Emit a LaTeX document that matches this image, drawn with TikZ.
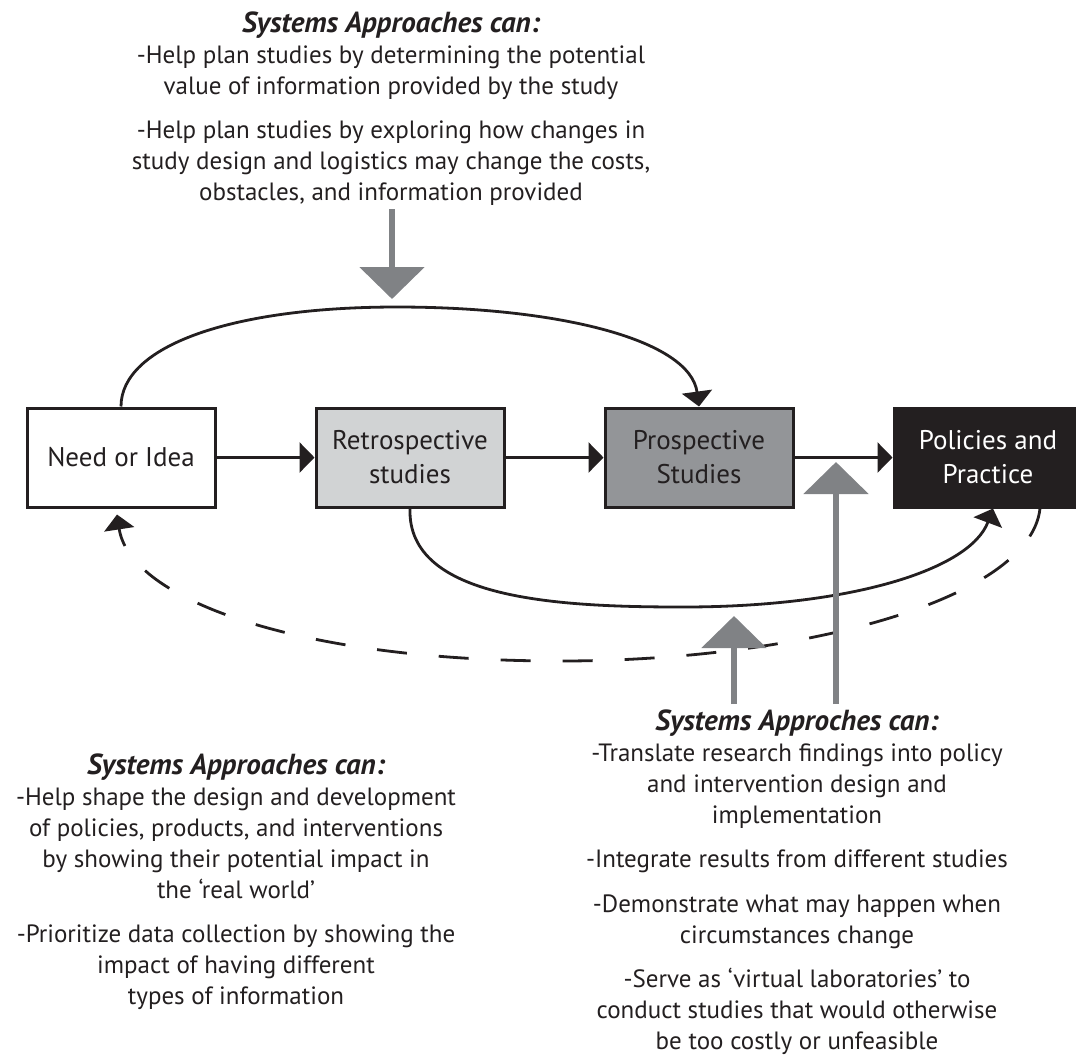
\documentclass[tikz,border=0pt]{standalone}
\usepackage{fontspec}
\setmainfont{PT Sans}
\usetikzlibrary{positioning,arrows.meta}
\definecolor{ink}{HTML}{231F20}
\definecolor{retrofill}{HTML}{D1D3D4}
\definecolor{prospfill}{HTML}{939598}
\definecolor{pointer}{HTML}{808285}
\tikzset{
  stage/.style={draw=ink, line width=1.5pt, minimum width=94pt, minimum height=49.5pt,
    inner sep=0pt, align=center, text=ink, font=\fontsize{13.5}{17}\selectfont},
  flow/.style={draw=ink, line width=1.4pt, -{Triangle[length=7.5pt,width=15pt]}},
  hint/.style={draw=pointer, line width=3pt, -{Triangle[length=16pt,width=32pt]}},
  note/.style={align=center, inner sep=0pt, anchor=north, text=ink,
    font=\fontsize{12.5}{15.5}\selectfont},
}
\newcommand{\notehead}[1]{{\fontsize{14.5}{15.5}\selectfont\bfseries\itshape #1}}

\begin{document}
\begin{tikzpicture}[x=0.5pt,y=-0.5pt,node distance=49pt]
    \useasboundingbox (0,0) rectangle (1076,1057);
    % stages
    \node[stage] (need) at (121,457.5) {Need or Idea};
    \node[stage, fill=retrofill, right=of need] (retro) {Retrospective\\studies};
    \node[stage, fill=prospfill, right=of retro] (prosp) {Prospective\\Studies};
    \node[stage, fill=ink, text=white, right=of prosp] (policy) {Policies and\\Practice};
    \draw[flow] (need) -- (retro);
    \draw[flow] (retro) -- (prosp);
    \draw[flow] (prosp) -- (policy);
    % arcs over and under
    \draw[flow] (need.north) .. controls +(0,-60) and (230,307) .. (397,307)
        .. controls (560,307) and (690,340) .. (prosp.north);
    \draw[flow] (retro.south) .. controls (407,600) and (560,607) .. (683,607)
        .. controls (850,607) and (970,570) .. ([xshift=2.5pt]policy.south);
    \draw[flow, dash pattern=on 15pt off 16pt] ([xshift=26pt]policy.south)
        .. controls (1030,600) and (800,661) .. (560,661)
        .. controls (300,661) and (130,600) .. ([xshift=-2pt,yshift=-3pt]need.south);
    % notes
    \node[note] (topnote) at (391,11) {\notehead{Systems Approaches can:}\\
        -Help plan studies by determining the potential\\
        value of information provided by the study\\[6.75pt]
        -Help plan studies by exploring how changes in\\
        study design and logistics may change the costs,\\
        obstacles, and information provided};
    \node[note] (leftnote) at (236,753) {\notehead{Systems Approaches can:}\\
        -Help shape the design and development\\
        of policies, products, and interventions\\
        by showing their potential impact in\\
        the `real world'\\[6.75pt]
        -Prioritize data collection by showing the\\
        impact of having different\\
        types of information};
    \node[note] (rightnote) at (797,709) {\notehead{Systems Approches can:}\\
        -Translate research findings into policy\\
        and intervention design and\\
        implementation\\[6.75pt]
        -Integrate results from different studies\\[6.75pt]
        -Demonstrate what may happen when\\
        circumstances change\\[6.75pt]
        -Serve as `virtual laboratories' to\\
        conduct studies that would otherwise\\
        be too costly or unfeasible};
    % pointers
    \coordinate (topfrom) at (392,209);
    \coordinate (topto) at (392,299);
    \coordinate (midfrom) at (734,704);
    \coordinate (midto) at (734,616);
    \coordinate (tallfrom) at (836,704);
    \coordinate (tallto) at (836,462);
    \draw[hint] (topfrom) -- (topto);
    \draw[hint] (midfrom) -- (midto);
    \draw[hint] (tallfrom) -- (tallto);
\end{tikzpicture}
\end{document}
